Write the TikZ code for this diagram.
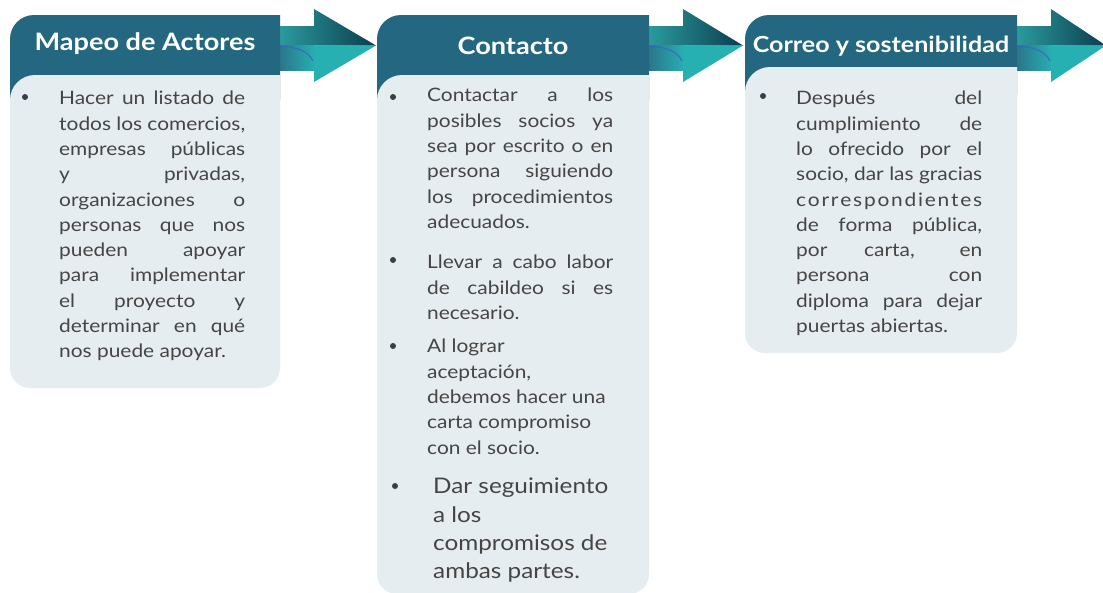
\documentclass[tikz,border=0pt]{standalone}
\usepackage{fontspec}
\setmainfont{Lato}[FakeStretch=1.13]
\definecolor{hdr}{HTML}{236780}
\definecolor{bodyc}{HTML}{E6EDF1}
\definecolor{txt}{HTML}{454545}
\definecolor{arrA}{HTML}{2A9C9E}
\definecolor{arrB}{HTML}{0C3B4F}
\definecolor{arrT}{HTML}{26B0B1}
\definecolor{arrL}{HTML}{2C7489}
\definecolor{crv}{HTML}{3D63C7}
\newcommand{\J}[1]{\makebox[186pt][s]{#1}}
\newcommand{\card}[5]{% x1, x2, header bottom, body top, body bottom
  \fill[hdr] (#2,-15) -- (#1+24,-15) arc[start angle=90,end angle=180,radius=24] -- (#1,-#3) -- (#2,-#3) -- cycle;
  \fill[bodyc] (#2,-#4) -- (#1+25,-#4) arc[start angle=90,end angle=180,radius=25] -- (#1,-#5+20) arc[start angle=180,end angle=270,radius=20] -- (#2-20,-#5) arc[start angle=270,end angle=360,radius=20] -- cycle;
}
\newcommand{\flowarrow}[3]{% shaft start, head start, tip
  \shade[left color=arrA, right color=arrB] (#1,-26) -- (#2,-26) -- (#2,-9) -- (#3,-45.5) -- (#1,-45.5) -- cycle;
  \fill[arrT] (#1,-45.5) -- (#3,-45.5) -- (#2,-82) -- (#2,-70) -- (#1,-70) -- cycle;
  \shade[left color=arrL, right color=arrT] (#1,-45.5) rectangle (#2+1,-70);
  \draw[crv, line width=0.9pt] (#1,-46.5) .. controls (#1+18,-46.5) and (#2-6,-51) .. (#2-1,-61);
}
\tikzset{
  headtxt/.style={text=white, font={\fontsize{24}{28}\selectfont\bfseries}, inner sep=0},
  bodytxt/.style={text=txt, font={\fontsize{18.5}{25.3}\selectfont}, inner sep=0, align=left, anchor=north west},
  bigtxt/.style={text=txt, font={\fontsize{21.5}{28.3}\selectfont}, inner sep=0, align=left, anchor=north west},
  dot/.style={circle, fill=txt!90!black, inner sep=0, minimum size=6pt}
}
\begin{document}
\begin{tikzpicture}[x=1pt,y=1pt]
\useasboundingbox (0,0) rectangle (1103,-592);
\clip (0,0) rectangle (1103,-592);
\fill[white] (0,0) rectangle (1103,-592);
% arrows
\flowarrow{279}{314}{376}
\flowarrow{648}{683}{743}
\flowarrow{1016}{1051}{1106}
% cards
\card{10}{280}{100}{75}{388}
\card{377}{649}{100}{75}{594}
\card{745}{1017}{95}{67}{353}
% headers
\node[headtxt] (h1) at (145,-44) {Mapeo de Actores};
\node[headtxt] (h2) at (513,-46) {Contacto};
\node[headtxt, font={\fontsize{22.2}{26}\selectfont\bfseries}] (h3) at (881,-46) {Correo y sostenibilidad};
% box 1
\node[dot] (d1) at (25,-97) {};
\node[bodytxt] (t1) at (59,-91) {\J{Hacer un listado de}\\\J{todos los comercios,}\\\J{empresas públicas}\\\J{y privadas,}\\\J{organizaciones o}\\\J{personas que nos}\\\J{pueden apoyar}\\\J{para implementar}\\\J{el proyecto y}\\\J{determinar en qué}\\nos puede apoyar.};
% box 2
\node[dot] (d2a) at (393,-97) {};
\node[bodytxt] (t2a) at (427,-88) {\J{Contactar a los}\\\J{posibles socios ya}\\\J{sea por escrito o en}\\\J{persona siguiendo}\\\J{los procedimientos}\\adecuados.};
\node[dot] (d2b) at (393,-260) {};
\node[bodytxt] (t2b) at (427,-255) {\J{Llevar a cabo labor}\\\J{de cabildeo si es}\\necesario.};
\node[dot] (d2c) at (393,-346) {};
\node[bodytxt] (t2c) at (427,-339) {Al lograr\\aceptación,\\debemos hacer una\\carta compromiso\\con el socio.};
\node[dot] (d2d) at (395,-486) {};
\node[bigtxt] (t2d) at (433,-478) {Dar seguimiento\\a los\\compromisos de\\ambas partes.};
% box 3
\node[dot] (d3) at (763,-96) {};
\node[bodytxt] (t3) at (796,-91) {\J{Después del}\\\J{cumplimiento de}\\\J{lo ofrecido por el}\\\J{socio, dar las gracias}\\\makebox[186pt][s]{c\hfill o\hfill r\hfill r\hfill e\hfill s\hfill p\hfill o\hfill n\hfill d\hfill i\hfill e\hfill n\hfill t\hfill e\hfill s}\\\J{de forma pública,}\\\J{por carta, en}\\\J{persona con}\\\J{diploma para dejar}\\puertas abiertas.};
\end{tikzpicture}
\end{document}
